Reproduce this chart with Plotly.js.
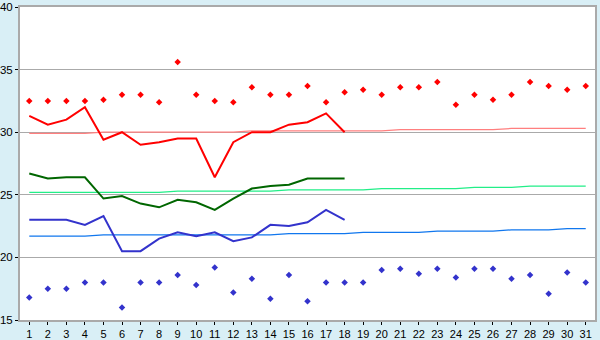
<!DOCTYPE html>
<html>
<head>
<meta charset="utf-8">
<script src="https://cdn.plot.ly/plotly-3.0.1.min.js"></script>
<style>html,body{margin:0;padding:0;background:#d9eff6;}#chart{width:600px;height:340px;}</style>
</head>
<body>
<div id="chart"></div>
<script>
const days = Array.from({length: 31}, (_, i) => i + 1);
const recordMax = [32.5,32.5,32.5,32.5,32.6,33.0,33.0,32.4,35.6,33.0,32.5,32.4,33.6,33.0,33.0,33.7,32.4,33.2,33.4,33.0,33.6,33.6,34.0,32.2,33.0,32.6,33.0,34.0,33.7,33.4,33.7];
const recordMin = [16.8,17.5,17.5,18.0,18.0,16.0,18.0,18.0,18.6,17.8,19.2,17.2,18.3,16.7,18.6,16.5,18.0,18.0,18.0,19.0,19.1,18.7,19.1,18.4,19.1,19.1,18.3,18.6,17.1,18.8,18.0];
const obsDays = days.slice(0, 18);
const obsMax = [31.3,30.6,31.0,32.0,29.4,30.0,29.0,29.2,29.5,29.5,26.4,29.2,30.0,30.0,30.6,30.8,31.5,30.0];
const obsMean = [26.7,26.3,26.4,26.4,24.7,24.9,24.3,24.0,24.6,24.4,23.8,24.7,25.5,25.7,25.8,26.3,26.3,26.3];
const obsMin = [23.0,23.0,23.0,22.6,23.3,20.5,20.5,21.5,22.0,21.7,22.0,21.3,21.6,22.6,22.5,22.8,23.8,23.0];
const normMax = [29.9,29.9,29.9,29.9,30.0,30.0,30.0,30.0,30.0,30.0,30.0,30.0,30.1,30.1,30.1,30.1,30.1,30.1,30.1,30.1,30.2,30.2,30.2,30.2,30.2,30.2,30.3,30.3,30.3,30.3,30.3];
const normMean = [25.2,25.2,25.2,25.2,25.2,25.2,25.2,25.2,25.3,25.3,25.3,25.3,25.3,25.3,25.4,25.4,25.4,25.4,25.4,25.5,25.5,25.5,25.5,25.5,25.6,25.6,25.6,25.7,25.7,25.7,25.7];
const normMin = [21.7,21.7,21.7,21.7,21.8,21.8,21.8,21.8,21.8,21.8,21.8,21.8,21.8,21.8,21.9,21.9,21.9,21.9,22.0,22.0,22.0,22.0,22.1,22.1,22.1,22.1,22.2,22.2,22.2,22.3,22.3];
const yTicks = [15, 20, 25, 30, 35, 40];

const traces = [
  {x: days, y: normMax, mode: 'lines', line: {color: '#ff7f7f', width: 1.2}, hoverinfo: 'skip'},
  {x: days, y: normMean, mode: 'lines', line: {color: '#22ee88', width: 1.2}, hoverinfo: 'skip'},
  {x: days, y: normMin, mode: 'lines', line: {color: '#1177ee', width: 1.2}, hoverinfo: 'skip'},
  {x: obsDays, y: obsMax, mode: 'lines', line: {color: '#ff0000', width: 2}},
  {x: obsDays, y: obsMean, mode: 'lines', line: {color: '#006600', width: 2}},
  {x: obsDays, y: obsMin, mode: 'lines', line: {color: '#3333cc', width: 2}},
  {x: days, y: recordMax, mode: 'markers', marker: {symbol: 'diamond', size: 5, color: '#ff0000'}},
  {x: days, y: recordMin, mode: 'markers', marker: {symbol: 'diamond', size: 5, color: '#3333cc'}}
];

const layout = {
  width: 600, height: 340,
  margin: {l: 20, r: 5, t: 7, b: 20, pad: 0},
  paper_bgcolor: '#d9eff6',
  plot_bgcolor: '#ffffff',
  showlegend: false,
  font: {family: 'Liberation Sans, Arial, sans-serif', size: 11, color: '#000'},
  xaxis: {
    range: [0.5, 31.5], tickmode: 'array', tickvals: days, ticktext: days.map(String),
    showgrid: false, zeroline: false, ticks: 'outside', ticklen: 3, tickcolor: '#000',
    showline: true, linecolor: '#aaaaaa', linewidth: 2, mirror: true,
    tickfont: {size: 11}, ticklabelstandoff: 0, ticklabeloverflow: 'allow', automargin: false
  },
  yaxis: {
    range: [15, 40], tickmode: 'array', tickvals: yTicks, ticktext: yTicks.map(String),
    showgrid: true, gridcolor: '#aaaaaa', gridwidth: 1, zeroline: false,
    ticks: 'outside', ticklen: 3, tickcolor: '#000',
    showline: true, linecolor: '#aaaaaa', linewidth: 2, mirror: true,
    tickfont: {size: 11.5}, ticklabelstandoff: 0, ticklabeloverflow: 'allow', automargin: false
  }
};

Plotly.newPlot('chart', traces, layout, {displayModeBar: false, staticPlot: true});
</script>
</body>
</html>
